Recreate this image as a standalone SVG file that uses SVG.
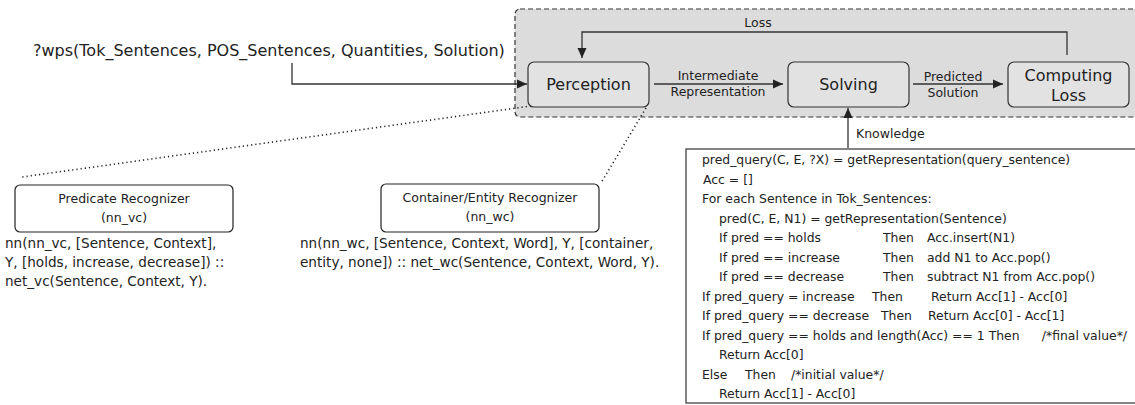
<svg xmlns="http://www.w3.org/2000/svg" width="1135" height="405" viewBox="0 0 1135 405">
<defs>
<style>
text{font-family:"DejaVu Sans","Liberation Sans",sans-serif;fill:#222}
.big{font-size:16px}
.lbl{font-size:12.5px}
.nn{font-size:13.6px}
.code{font-size:12.4px}
.mid{text-anchor:middle}
.end{text-anchor:end}
.node{fill:#e2e2e2;stroke:#333;stroke-width:1.2}
.wnode{fill:#fff;stroke:#222;stroke-width:1.2}
.edge{fill:none;stroke:#333;stroke-width:1.3}
.dot{fill:none;stroke:#222;stroke-width:1.6;stroke-dasharray:1.2,3}
</style>
<marker id="ah" viewBox="0 0 10 10" refX="10" refY="5" markerWidth="10" markerHeight="10" markerUnits="userSpaceOnUse" orient="auto">
<path d="M0,0.5 L10,5 L0,9.5 z" fill="#222"/>
</marker>
</defs>
<rect width="1135" height="405" fill="#fff"/>
<g id="container">
<rect x="515" y="9" width="640" height="108" rx="5" fill="#dcdcdc" stroke="#333" stroke-width="1.2" stroke-dasharray="5,3"/>
</g>
<g id="input">
<text class="big" x="33" y="56">?wps(Tok_Sentences, POS_Sentences, Quantities, Solution)</text>
</g>
<g id="connectors">
<path class="edge" d="M292,63 V84 H527" marker-end="url(#ah)"/>
<path class="edge" d="M1067,55 V32 H582 V58" marker-end="url(#ah)"/>
<path class="edge" d="M654,84 H783" marker-end="url(#ah)"/>
<path class="edge" d="M913,84 H1003" marker-end="url(#ah)"/>
<path class="edge" d="M848,148 V108" marker-end="url(#ah)"/>
<path class="dot" d="M531,106 L22,177"/>
<path class="dot" d="M646,108 L601,183"/>
<text class="lbl mid" x="758" y="27">Loss</text>
<text class="lbl mid" x="718" y="80">Intermediate</text>
<text class="lbl mid" x="718" y="96">Representation</text>
<text class="lbl mid" x="953" y="81">Predicted</text>
<text class="lbl mid" x="953" y="97">Solution</text>
<text class="lbl" x="856" y="138">Knowledge</text>
</g>
<g id="perception">
<rect class="node" x="528" y="62" width="121" height="45" rx="6"/>
<text class="big mid" x="588.5" y="90">Perception</text>
</g>
<g id="solving">
<rect class="node" x="788" y="62" width="121" height="45" rx="6"/>
<text class="big mid" x="848.5" y="90">Solving</text>
</g>
<g id="computing-loss">
<rect class="node" x="1008" y="62" width="121" height="45" rx="6"/>
<text class="big mid" x="1068.5" y="81">Computing</text>
<text class="big mid" x="1068.5" y="101">Loss</text>
</g>
<g id="predicate-recognizer">
<rect class="wnode" x="15" y="185" width="218" height="47" rx="5"/>
<text class="lbl mid" x="124" y="203">Predicate Recognizer</text>
<text class="lbl mid" x="124" y="222">(nn_vc)</text>
<text class="nn" x="5" y="248">nn(nn_vc, [Sentence, Context],</text>
<text class="nn" x="5" y="267">Y, [holds, increase, decrease]) ::</text>
<text class="nn" x="5" y="286">net_vc(Sentence, Context, Y).</text>
</g>
<g id="container-entity-recognizer">
<rect class="wnode" x="381" y="184" width="218" height="48" rx="5"/>
<text class="lbl mid" x="490" y="202">Container/Entity Recognizer</text>
<text class="lbl mid" x="490" y="221">(nn_wc)</text>
<text class="nn" x="300" y="248">nn(nn_wc, [Sentence, Context, Word], Y, [container,</text>
<text class="nn" x="300" y="267">entity, none]) :: net_wc(Sentence, Context, Word, Y).</text>
</g>
<g id="knowledge-code">
<rect x="686" y="149" width="460" height="254" fill="#fff" stroke="#333" stroke-width="1.2"/>
<text class="code" x="702" y="164">pred_query(C, E, ?X) = getRepresentation(query_sentence)</text>
<text class="code" x="703" y="183.5">Acc = []</text>
<text class="code" x="702" y="203">For each Sentence in Tok_Sentences:</text>
<text class="code" x="719" y="222.5">pred(C, E, N1) = getRepresentation(Sentence)</text>
<text class="code" x="719" y="242">If pred == holds</text>
<text class="code" x="883" y="242">Then</text>
<text class="code" x="927" y="242">Acc.insert(N1)</text>
<text class="code" x="719" y="261.5">If pred == increase</text>
<text class="code" x="883" y="261.5">Then</text>
<text class="code" x="927" y="261.5">add N1 to Acc.pop()</text>
<text class="code" x="719" y="281">If pred == decrease</text>
<text class="code" x="883" y="281">Then</text>
<text class="code" x="927" y="281">subtract N1 from Acc.pop()</text>
<text class="code" x="702" y="300.5">If pred_query = increase</text>
<text class="code" x="872" y="300.5">Then</text>
<text class="code" x="931" y="300.5">Return Acc[1] - Acc[0]</text>
<text class="code" x="702" y="320">If pred_query == decrease</text>
<text class="code" x="881" y="320">Then</text>
<text class="code" x="928" y="320">Return Acc[0] - Acc[1]</text>
<text class="code" x="702" y="339.5">If pred_query == holds and length(Acc) == 1 Then</text>
<text class="code end" x="1127" y="339.5">/*final value*/</text>
<text class="code" x="719" y="359">Return Acc[0]</text>
<text class="code" x="702" y="378.5">Else</text>
<text class="code" x="745" y="378.5">Then</text>
<text class="code" x="791" y="378.5">/*initial value*/</text>
<text class="code" x="719" y="398">Return Acc[1] - Acc[0]</text>
</g>
</svg>
